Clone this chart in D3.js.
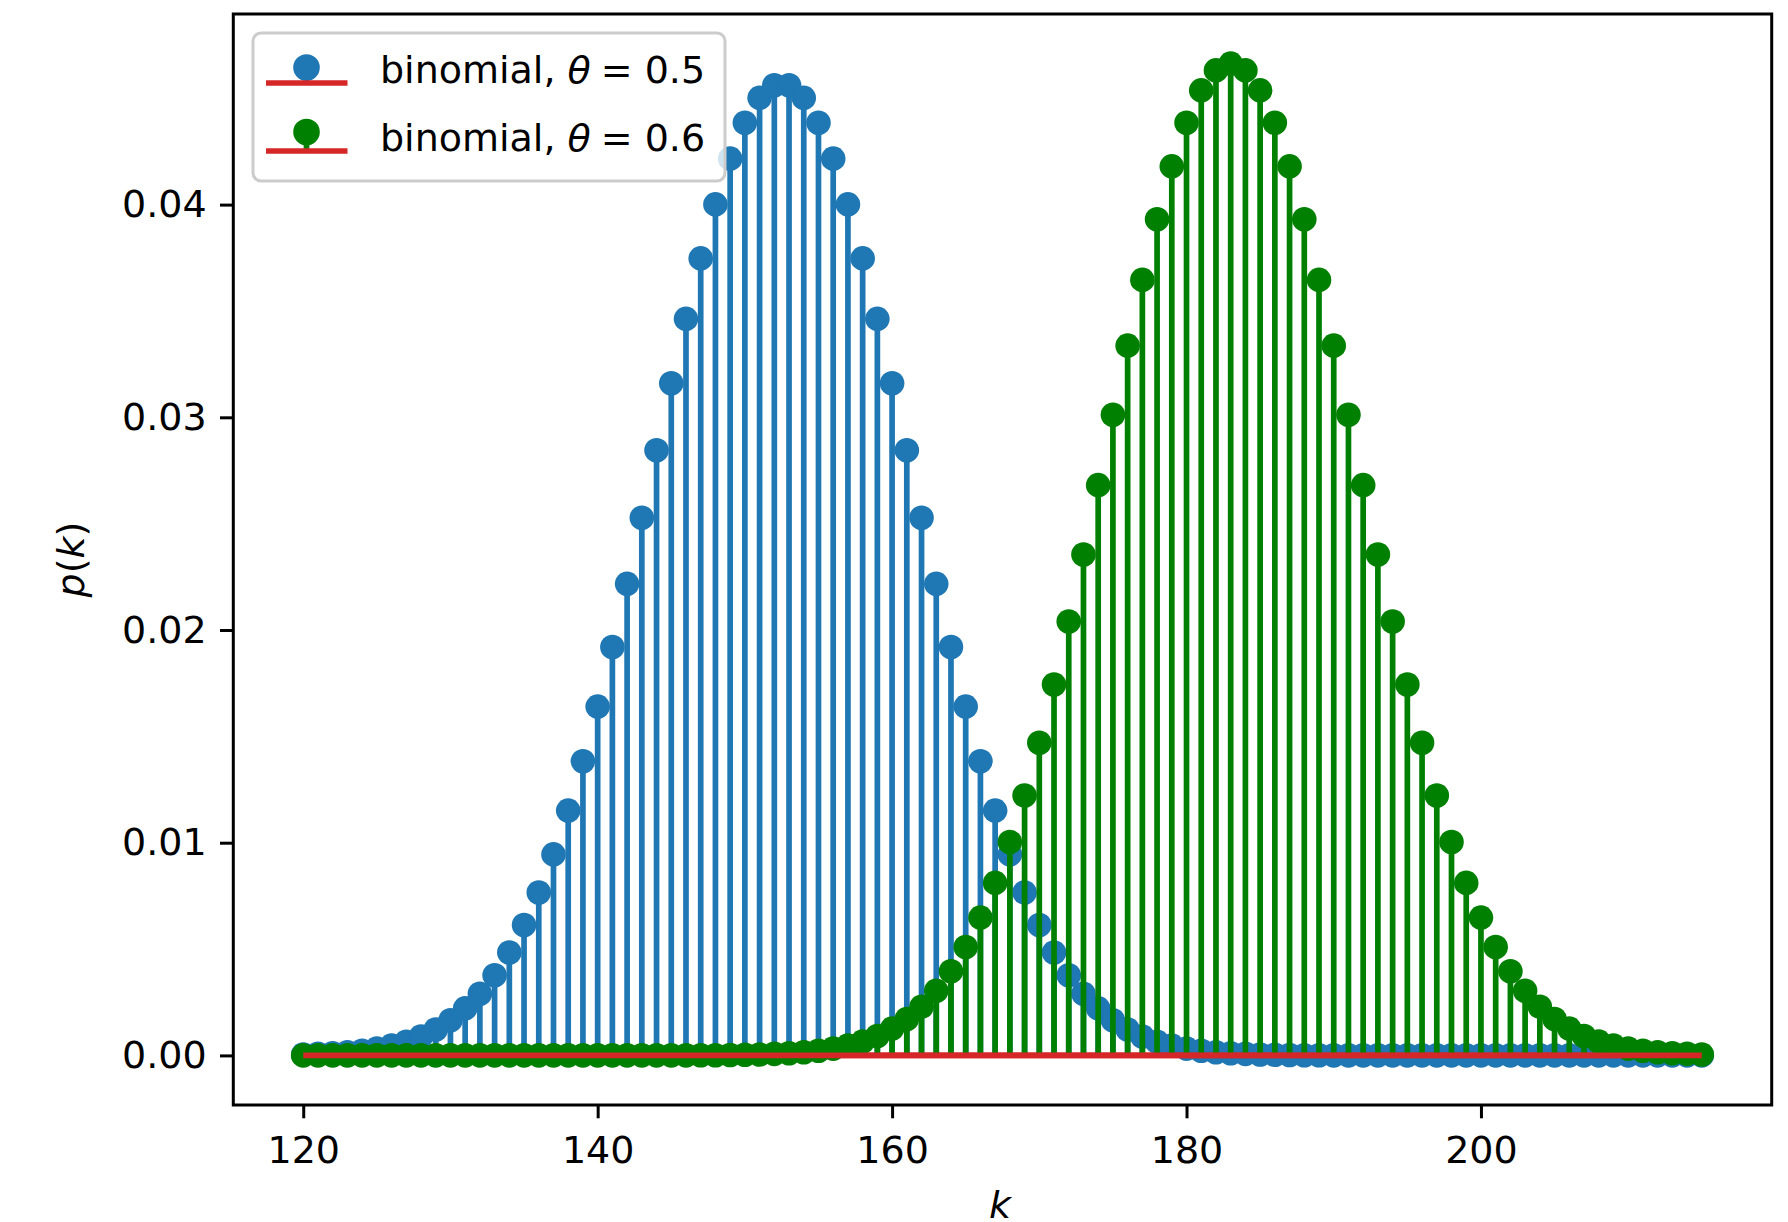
<!DOCTYPE html>
<html>
<head>
<meta charset="utf-8">
<script src="https://cdn.jsdelivr.net/npm/d3@7"></script>
<style>
  html, body { margin: 0; padding: 0; background: #fff; }
  svg { display: block; font-family: "DejaVu Sans", sans-serif; }
</style>
</head>
<body>
<svg id="chart" width="1788" height="1222"></svg>
<script>
// Outcomes k of the two binomial distributions
const kValues = [
  120,121,122,123,124,125,126,127,128,129,130,131,132,133,134,135,136,137,138,139,
  140,141,142,143,144,145,146,147,148,149,150,151,152,153,154,155,156,157,158,159,
  160,161,162,163,164,165,166,167,168,169,170,171,172,173,174,175,176,177,178,179,
  180,181,182,183,184,185,186,187,188,189,190,191,192,193,194,195,196,197,198,199,
  200,201,202,203,204,205,206,207,208,209,210,211,212,213,214,215
];

// p(k) for theta = 0.5
const pmfTheta05 = [
  0.00004,0.00007,0.00010,0.00015,0.00022,0.00032,0.00046,0.00064,0.00089,0.00122,
  0.00165,0.00221,0.00290,0.00377,0.00484,0.00613,0.00766,0.00945,0.01151,0.01383,
  0.01640,0.01920,0.02217,0.02528,0.02845,0.03160,0.03463,0.03747,0.04001,0.04216,
  0.04385,0.04502,0.04561,0.04561,0.04502,0.04385,0.04216,0.04001,0.03747,0.03463,
  0.03160,0.02845,0.02528,0.02217,0.01920,0.01640,0.01383,0.01151,0.00945,0.00766,
  0.00613,0.00484,0.00377,0.00290,0.00221,0.00165,0.00122,0.00089,0.00064,0.00046,
  0.00032,0.00022,0.00015,0.00010,0.00007,0.00004,0.00003,0.00002,0.00001,0.00001,
  0,0,0,0,0,0,0,0,0,0,
  0,0,0,0,0,0,0,0,0,0,
  0,0,0,0,0,0
];

// p(k) for theta = 0.6
const pmfTheta06 = [
  0,0,0,0,0,0,0,0,0,0,
  0,0,0,0,0,0,0,0,0,0,
  0,0,0,0,0,0,0,
  0.00001,0.00001,0.00002,0.00003,0.00004,0.00007,0.00010,0.00015,0.00022,0.00032,
  0.00046,0.00065,0.00091,0.00126,0.00171,0.00229,0.00304,0.00396,0.00510,0.00648,
  0.00811,0.01003,0.01222,0.01470,0.01744,0.02040,0.02355,0.02681,0.03012,0.03337,
  0.03646,0.03931,0.04180,0.04385,0.04537,0.04631,0.04663,0.04631,0.04537,0.04385,
  0.04180,0.03931,0.03646,0.03337,0.03012,0.02681,0.02355,0.02040,0.01744,0.01470,
  0.01222,0.01003,0.00811,0.00648,0.00510,0.00396,0.00304,0.00229,0.00171,0.00126,
  0.00091,0.00065,0.00046,0.00032,0.00022,0.00015,0.00010,0.00007,0.00004
];

const thetaLabels = ["0.5", "0.6"];
const xTickValues = [120, 140, 160, 180, 200];
const yTickValues = [0, 0.01, 0.02, 0.03, 0.04];
const yTickLabels = ["0.00", "0.01", "0.02", "0.03", "0.04"];

const series = [
  { theta: thetaLabels[0], values: pmfTheta05, color: "#1f77b4" },
  { theta: thetaLabels[1], values: pmfTheta06, color: "#008000" }
];
const baselineColor = "#d62728";

// Geometry
const frame = { left: 233.3, right: 1771.7, top: 14, bottom: 1105 };
const fontSize = 38;
const tickLen = 13.3, tickPad = 13.3, spineWidth = 3;
const stemWidth = 5.7, markerR = 12.3, baseWidth = 5.7;

const svg = d3.select("#chart");

// Autoscaled limits with 5% margins on each side
function padded(lo, hi) {
  const m = (hi - lo) * 0.05;
  return [lo - m, hi + m];
}
const allValues = pmfTheta05.concat(pmfTheta06);
const x = d3.scaleLinear()
  .domain(padded(d3.min(kValues), d3.max(kValues)))
  .range([frame.left, frame.right]);
const y = d3.scaleLinear()
  .domain(padded(Math.min(0, d3.min(allValues)), d3.max(allValues)))
  .range([frame.bottom, frame.top]);

const plotArea = svg.append("g");

// Stem plots: stems, then markers, then the baseline, per series
series.forEach(s => {
  const g = plotArea.append("g");
  g.selectAll("line.stem")
    .data(kValues)
    .join("line")
    .attr("class", "stem")
    .attr("x1", (k) => x(k)).attr("x2", (k) => x(k))
    .attr("y1", y(0))
    .attr("y2", (k, i) => y(s.values[i]))
    .attr("stroke", s.color)
    .attr("stroke-width", stemWidth);
  g.selectAll("circle.marker")
    .data(kValues)
    .join("circle")
    .attr("class", "marker")
    .attr("cx", (k) => x(k))
    .attr("cy", (k, i) => y(s.values[i]))
    .attr("r", markerR)
    .attr("fill", s.color);
  g.append("line")
    .attr("x1", x(d3.min(kValues))).attr("x2", x(d3.max(kValues)))
    .attr("y1", y(0)).attr("y2", y(0))
    .attr("stroke", baselineColor)
    .attr("stroke-width", baseWidth);
});

// Axes
const xAxis = d3.axisBottom(x)
  .tickValues(xTickValues)
  .tickFormat(d3.format("d"))
  .tickSize(tickLen)
  .tickPadding(tickPad);
const yAxis = d3.axisLeft(y)
  .tickValues(yTickValues)
  .tickFormat((d, i) => yTickLabels[i])
  .tickSize(tickLen)
  .tickPadding(tickPad);

const gx = svg.append("g")
  .attr("transform", `translate(0,${frame.bottom})`)
  .call(xAxis);
const gy = svg.append("g")
  .attr("transform", `translate(${frame.left},0)`)
  .call(yAxis);

[gx, gy].forEach(g => {
  g.select(".domain").remove();
  g.selectAll(".tick line").attr("stroke", "#000").attr("stroke-width", spineWidth);
  g.selectAll(".tick text")
    .attr("fill", "#000")
    .style("font-family", "'DejaVu Sans', sans-serif")
    .style("font-size", fontSize + "px");
});
gx.selectAll(".tick text").attr("dy", null).attr("y", 58);
gy.selectAll(".tick text").attr("dy", null).attr("y", 12);

// Frame
svg.append("rect")
  .attr("x", frame.left).attr("y", frame.top)
  .attr("width", frame.right - frame.left)
  .attr("height", frame.bottom - frame.top)
  .attr("fill", "none")
  .attr("stroke", "#000")
  .attr("stroke-width", spineWidth);

// Axis labels
const xLabel = svg.append("text")
  .attr("x", 1000)
  .attr("y", 1218)
  .attr("text-anchor", "middle")
  .style("font-size", fontSize + "px");
xLabel.append("tspan").style("font-style", "italic").text("k");

const yLabel = svg.append("text")
  .attr("transform", `translate(84,${(frame.top + frame.bottom) / 2}) rotate(-90)`)
  .attr("text-anchor", "middle")
  .style("font-size", fontSize + "px");
yLabel.append("tspan").style("font-style", "italic").text("p");
yLabel.append("tspan").text("(");
yLabel.append("tspan").style("font-style", "italic").text("k");
yLabel.append("tspan").text(")");

// Legend
const legend = svg.append("g");
legend.append("rect")
  .attr("x", 253).attr("y", 33)
  .attr("width", 472).attr("height", 148)
  .attr("rx", 8).attr("ry", 8)
  .attr("fill", "#fff").attr("fill-opacity", 0.8)
  .attr("stroke", "#cccccc").attr("stroke-width", 3);

const rowY = [83, 151];
const markerLift = [15.5, 19];
series.forEach((s, i) => {
  const row = legend.append("g").attr("transform", `translate(0,${rowY[i]})`);
  row.append("line")
    .attr("x1", 306.5).attr("x2", 306.5)
    .attr("y1", 0).attr("y2", -markerLift[i])
    .attr("stroke", s.color).attr("stroke-width", stemWidth);
  row.append("circle")
    .attr("cx", 306.5).attr("cy", -markerLift[i])
    .attr("r", markerR + 1)
    .attr("fill", s.color);
  row.append("line")
    .attr("x1", 266).attr("x2", 347.5)
    .attr("y1", 0).attr("y2", 0)
    .attr("stroke", baselineColor).attr("stroke-width", baseWidth);
  const t = row.append("text")
    .attr("x", 380).attr("y", 0)
    .style("font-size", fontSize + "px")
    .attr("fill", "#000");
  t.append("tspan").text("binomial, ");
  t.append("tspan").style("font-style", "italic").text("θ");
  t.append("tspan").attr("dx", 10).text("=");
  t.append("tspan").attr("dx", 12).text(s.theta);
});
</script>
</body>
</html>
